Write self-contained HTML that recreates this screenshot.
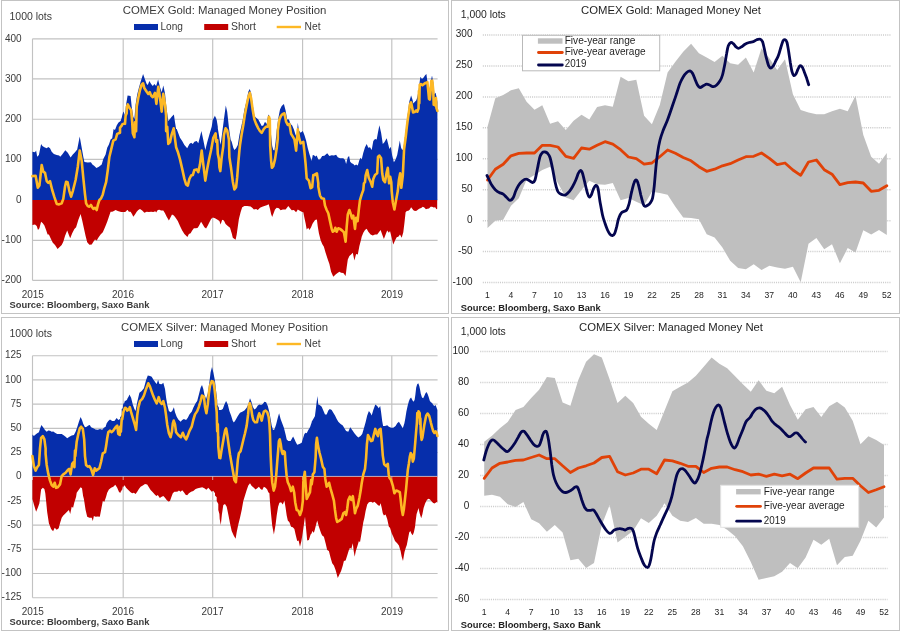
<!DOCTYPE html>
<html><head><meta charset="utf-8"><title>COMEX Gold and Silver: Managed Money</title>
<style>html,body{margin:0;padding:0;background:#fff}svg{display:block}text{font-family:"Liberation Sans", "DejaVu Sans", sans-serif}</style>
</head><body>
<svg width="900" height="631" viewBox="0 0 900 631">
<rect width="900" height="631" fill="#fff"/>
<rect x="1.5" y="0.5" width="447" height="313" fill="#fff" stroke="#c3c3c3" stroke-width="1"/>
<line x1="32.5" y1="38.8" x2="437.6" y2="38.8" stroke="#c2c2c2" stroke-width="1.15"/>
<line x1="32.5" y1="78.9" x2="437.6" y2="78.9" stroke="#c2c2c2" stroke-width="1.15"/>
<line x1="32.5" y1="119.2" x2="437.6" y2="119.2" stroke="#c2c2c2" stroke-width="1.15"/>
<line x1="32.5" y1="159.4" x2="437.6" y2="159.4" stroke="#c2c2c2" stroke-width="1.15"/>
<line x1="32.5" y1="200.0" x2="437.6" y2="200.0" stroke="#c2c2c2" stroke-width="1.15"/>
<line x1="32.5" y1="240.3" x2="437.6" y2="240.3" stroke="#c2c2c2" stroke-width="1.15"/>
<line x1="32.5" y1="280.4" x2="437.6" y2="280.4" stroke="#c2c2c2" stroke-width="1.15"/>
<line x1="32.5" y1="38.8" x2="32.5" y2="280.4" stroke="#c2c2c2" stroke-width="1.15"/>
<line x1="123.2" y1="38.8" x2="123.2" y2="280.4" stroke="#c2c2c2" stroke-width="1.15"/>
<line x1="212.7" y1="38.8" x2="212.7" y2="280.4" stroke="#c2c2c2" stroke-width="1.15"/>
<line x1="302.6" y1="38.8" x2="302.6" y2="280.4" stroke="#c2c2c2" stroke-width="1.15"/>
<line x1="391.8" y1="38.8" x2="391.8" y2="280.4" stroke="#c2c2c2" stroke-width="1.15"/>
<path d="M32.4,151.7 L35.0,152.2 L36.1,150.6 L37.2,156.7 L38.9,155.0 L41.1,143.9 L42.4,146.1 L44.4,147.2 L46.7,148.3 L48.3,146.9 L50.0,148.3 L51.7,151.7 L53.9,153.9 L56.7,155.0 L59.1,155.6 L60.2,156.7 L62.2,154.4 L65.3,150.2 L67.8,152.8 L70.6,157.6 L72.8,154.4 L75.0,152.2 L77.2,149.4 L79.7,136.4 L81.7,147.8 L83.3,156.7 L84.4,162.0 L87.8,162.4 L90.9,162.2 L92.4,164.4 L94.4,166.1 L96.4,168.1 L98.9,166.7 L101.7,164.4 L103.3,158.9 L105.6,154.4 L107.2,147.8 L108.9,144.4 L110.6,139.4 L112.2,138.3 L113.6,128.9 L115.0,130.0 L116.7,125.6 L118.3,122.8 L120.6,121.1 L121.7,117.8 L122.2,115.6 L123.3,111.7 L123.6,111.7 L125.0,115.6 L126.1,104.4 L127.6,95.6 L130.6,96.1 L131.7,106.7 L133.3,116.7 L134.4,118.9 L135.6,104.4 L137.2,94.4 L138.9,87.8 L140.6,81.7 L143.1,73.9 L145.0,79.4 L146.7,83.9 L147.8,85.0 L149.4,81.1 L151.1,83.9 L152.8,86.1 L154.4,83.9 L156.1,86.1 L158.1,79.4 L160.0,87.2 L161.7,92.2 L163.3,85.6 L165.0,93.3 L166.1,104.4 L167.2,113.3 L168.3,121.1 L170.0,118.9 L171.7,116.7 L173.9,114.4 L175.0,122.2 L176.1,128.9 L176.7,128.9 L178.3,133.3 L180.0,137.8 L182.2,141.1 L184.4,145.0 L187.2,148.3 L189.4,143.9 L191.1,142.8 L192.8,143.9 L194.4,141.7 L196.7,141.1 L198.3,143.3 L200.0,136.7 L201.4,131.1 L203.3,140.0 L205.3,150.0 L207.2,142.2 L209.4,134.4 L211.7,126.7 L212.8,120.0 L215.0,115.6 L215.0,116.1 L216.1,118.3 L216.7,120.0 L217.8,126.7 L217.8,128.3 L220.0,141.7 L220.6,144.8 L222.2,132.8 L223.9,119.4 L225.8,105.6 L227.2,111.7 L228.9,127.2 L230.6,139.4 L231.7,141.7 L233.3,147.8 L234.4,150.0 L236.1,148.3 L237.8,145.0 L239.4,135.0 L241.1,127.2 L242.8,119.4 L244.4,109.4 L246.7,100.6 L248.3,91.7 L249.7,88.9 L251.1,92.8 L252.8,105.0 L254.4,116.1 L256.1,117.8 L258.3,119.4 L260.0,122.8 L261.7,126.1 L263.3,125.6 L265.0,121.7 L266.7,123.9 L268.3,114.4 L269.8,116.7 L270.6,130.6 L272.2,146.1 L273.3,150.0 L274.4,150.6 L275.6,141.7 L276.7,130.6 L278.3,118.3 L280.0,109.4 L281.7,106.1 L283.9,104.1 L285.6,110.6 L287.2,119.4 L288.9,119.4 L290.6,123.9 L292.2,125.6 L293.9,129.4 L295.6,135.0 L296.7,137.2 L297.8,122.8 L298.9,130.6 L300.6,132.8 L302.8,131.1 L304.4,135.0 L306.1,140.6 L307.8,148.3 L309.4,153.9 L311.4,160.6 L311.7,160.6 L312.8,155.0 L313.3,155.0 L315.0,156.1 L315.0,156.7 L316.7,155.6 L318.3,159.4 L320.0,159.4 L322.2,156.1 L324.4,155.8 L327.2,153.3 L329.4,156.1 L331.7,155.3 L333.9,155.6 L336.1,154.7 L337.8,157.2 L340.0,158.3 L343.3,158.3 L345.0,160.0 L346.1,163.9 L347.8,157.2 L349.1,156.1 L350.2,161.7 L351.7,163.3 L353.3,163.9 L354.7,165.6 L356.1,164.4 L357.8,165.6 L359.4,160.0 L360.6,157.8 L361.7,159.4 L363.3,152.8 L365.0,147.2 L366.7,143.9 L368.3,147.8 L370.0,147.2 L371.7,150.0 L373.3,141.1 L375.0,138.9 L376.7,139.4 L378.0,132.2 L379.4,125.3 L381.1,132.8 L382.8,143.9 L384.4,142.2 L386.7,138.3 L388.3,144.4 L389.4,148.9 L390.8,146.7 L392.2,155.6 L393.9,162.2 L395.6,159.4 L397.2,155.0 L398.3,148.9 L399.8,140.6 L401.1,147.8 L402.2,150.0 L403.3,149.0 L404.9,137.3 L406.1,127.2 L407.2,117.9 L408.4,109.3 L409.2,102.3 L409.6,100.4 L411.1,95.4 L412.3,98.9 L413.4,103.6 L414.6,102.0 L416.2,100.4 L417.3,97.3 L418.5,91.1 L419.7,81.8 L420.4,76.7 L422.0,79.1 L423.6,77.5 L425.1,75.2 L426.4,74.0 L427.2,80.2 L428.2,85.7 L429.4,90.3 L430.6,82.6 L432.0,75.6 L433.3,82.6 L434.4,94.2 L435.6,92.7 L436.8,98.1 L437.4,102.0 L437.4,200.0 L32.4,200.0 Z" fill="#062eab"/>
<path d="M32.4,225.0 L35.0,224.4 L36.7,226.1 L38.0,230.0 L39.4,228.3 L41.1,221.7 L42.8,223.3 L44.4,225.6 L46.1,230.0 L47.6,234.4 L48.9,234.4 L50.6,238.3 L52.8,242.8 L55.0,245.0 L57.6,248.9 L59.4,247.2 L61.7,245.0 L63.3,241.7 L65.0,236.1 L67.2,230.6 L68.9,235.0 L70.2,238.3 L72.2,233.3 L74.4,228.9 L76.1,227.2 L78.3,220.0 L80.6,213.9 L82.2,220.6 L83.9,228.3 L85.6,236.1 L87.2,242.2 L89.4,244.7 L91.7,244.4 L93.9,241.1 L95.0,239.4 L96.7,240.6 L98.3,237.8 L100.6,234.4 L102.8,232.2 L105.0,227.2 L107.2,221.7 L108.9,216.7 L110.6,211.7 L112.2,211.7 L113.9,211.1 L115.6,210.0 L117.8,211.1 L121.1,211.9 L123.3,212.0 L124.4,211.9 L125.6,211.7 L127.2,210.0 L127.6,210.0 L128.9,211.7 L128.9,211.7 L130.6,211.7 L132.0,213.9 L133.3,216.7 L135.0,214.4 L136.7,211.7 L138.3,210.0 L140.0,209.1 L142.2,210.6 L144.4,212.8 L146.7,211.7 L148.9,212.0 L151.1,211.7 L153.3,212.0 L155.3,211.3 L156.1,212.4 L157.8,210.0 L159.4,209.8 L161.1,210.6 L163.3,210.6 L165.0,213.3 L166.7,216.7 L168.9,220.6 L170.6,217.2 L172.0,214.4 L173.9,215.6 L175.6,217.8 L177.8,221.1 L180.0,226.1 L182.2,230.6 L184.4,233.9 L187.4,237.0 L188.9,233.9 L190.6,233.3 L192.2,230.6 L193.9,228.3 L196.1,228.3 L197.8,227.8 L199.4,225.0 L201.1,221.7 L202.8,224.4 L204.4,227.2 L206.1,228.6 L207.8,225.6 L209.4,222.2 L211.1,218.9 L212.8,217.6 L215.0,218.3 L215.0,218.3 L217.2,219.4 L217.2,219.4 L219.4,221.1 L220.6,224.4 L222.2,219.8 L223.9,220.6 L225.6,223.9 L227.8,226.1 L230.0,227.8 L231.7,233.3 L232.8,237.8 L235.6,239.8 L236.7,234.4 L237.8,226.7 L238.9,218.9 L240.6,212.2 L242.2,207.2 L244.4,205.9 L247.2,205.9 L250.6,206.4 L252.2,207.8 L253.9,209.4 L256.1,208.9 L257.8,210.0 L260.0,207.8 L262.2,206.7 L264.4,206.1 L266.7,205.3 L268.7,204.2 L270.0,208.9 L271.1,213.9 L272.2,217.0 L273.3,213.9 L275.0,209.4 L276.7,207.8 L278.9,208.3 L280.6,210.2 L282.8,209.4 L285.6,209.4 L288.3,206.1 L290.0,208.3 L291.7,210.3 L293.9,210.0 L296.1,212.2 L297.8,209.4 L299.4,210.6 L301.7,211.7 L303.3,212.2 L304.4,217.8 L305.6,223.3 L306.7,229.4 L308.3,227.8 L309.4,230.0 L311.1,227.2 L312.2,224.4 L312.8,223.3 L314.4,221.1 L315.0,220.0 L316.9,219.4 L317.8,226.7 L318.9,233.3 L320.6,240.0 L320.6,240.0 L322.2,243.9 L323.9,246.7 L325.6,252.8 L327.8,259.4 L329.4,263.9 L331.1,271.7 L333.3,276.7 L335.6,274.4 L337.2,273.3 L339.4,271.7 L341.1,272.8 L343.3,273.0 L345.6,275.9 L346.7,267.2 L347.8,259.4 L349.4,256.1 L351.1,254.4 L352.8,252.8 L354.4,260.6 L356.1,253.9 L357.8,254.4 L359.4,246.1 L361.1,239.4 L361.7,236.7 L363.3,232.8 L365.0,230.0 L366.7,228.7 L368.3,231.7 L370.6,234.4 L372.8,235.6 L375.0,234.4 L377.2,234.4 L378.9,232.2 L380.6,230.0 L382.2,234.4 L383.9,238.9 L385.6,234.4 L387.2,230.6 L388.9,232.8 L390.0,231.1 L391.7,237.8 L393.3,244.4 L395.0,240.6 L396.7,237.2 L398.3,236.7 L400.0,234.4 L401.7,237.8 L403.3,232.2 L404.4,223.3 L405.6,212.2 L406.8,211.1 L408.4,210.7 L409.9,209.6 L411.1,207.2 L412.3,208.8 L413.4,210.3 L415.0,211.1 L416.6,210.7 L418.1,209.6 L419.7,208.4 L421.2,208.0 L422.8,206.8 L424.3,207.6 L425.9,209.2 L427.4,208.8 L429.0,208.4 L430.6,206.8 L432.1,206.8 L433.7,207.6 L435.2,207.2 L436.4,209.2 L437.2,208.8 L437.2,200.0 L32.4,200.0 Z" fill="#c10000"/>
<path d="M32.4,176.1 L35.6,175.8 L37.8,187.8 L39.4,185.6 L41.7,165.0 L43.3,171.7 L45.0,172.8 L46.7,181.1 L48.3,182.8 L50.0,181.1 L52.2,190.0 L54.4,197.2 L56.7,203.9 L59.1,204.4 L61.7,203.3 L63.3,198.9 L65.0,186.7 L66.1,181.7 L67.6,182.2 L69.4,191.1 L71.1,196.7 L72.8,191.1 L75.6,180.0 L77.8,166.7 L79.7,150.6 L81.7,161.1 L83.3,177.8 L85.0,194.4 L86.1,203.3 L87.8,206.1 L89.4,206.7 L90.9,205.0 L92.2,207.2 L93.3,208.9 L95.0,207.8 L96.7,210.0 L98.0,204.4 L99.4,200.0 L101.1,198.3 L102.8,194.4 L104.4,187.8 L106.1,182.2 L107.8,170.0 L109.4,156.7 L110.9,150.6 L113.3,140.6 L115.6,139.4 L117.2,133.9 L120.0,132.8 L120.0,127.8 L121.7,125.6 L122.2,124.4 L124.4,123.3 L125.0,123.9 L125.6,115.6 L126.7,113.3 L126.9,106.7 L127.8,104.4 L129.4,107.8 L131.1,110.0 L132.2,122.2 L132.8,133.3 L134.4,137.2 L135.0,122.2 L136.1,131.1 L136.7,106.7 L138.3,97.8 L140.0,90.0 L141.7,84.4 L143.1,83.3 L144.4,88.3 L146.7,91.7 L148.3,93.9 L149.8,92.2 L151.1,95.6 L152.8,97.2 L155.0,92.8 L156.4,103.9 L158.3,86.7 L160.0,97.8 L161.7,111.7 L163.3,93.9 L165.0,104.4 L166.1,115.6 L166.1,131.1 L167.2,126.7 L168.3,143.9 L170.0,142.2 L171.7,134.4 L173.7,128.3 L175.0,138.9 L176.1,147.2 L177.8,151.7 L180.0,159.4 L182.2,168.9 L184.4,178.9 L186.1,184.4 L187.8,185.6 L189.4,178.9 L191.1,175.6 L192.8,175.0 L194.4,170.0 L196.7,169.4 L198.3,172.2 L200.0,164.4 L201.7,150.6 L203.3,164.4 L205.3,180.6 L207.2,168.9 L208.9,160.0 L211.1,150.0 L213.3,137.8 L215.6,133.3 L216.1,141.7 L217.2,140.0 L217.8,153.9 L218.9,158.9 L219.4,167.2 L220.3,171.1 L221.7,157.2 L223.3,146.1 L223.9,135.0 L225.6,128.3 L227.2,130.6 L228.9,139.4 L229.4,157.2 L231.1,168.3 L232.8,181.7 L234.4,189.4 L236.1,187.2 L237.2,177.2 L238.3,162.8 L239.4,150.6 L240.0,145.0 L241.7,133.9 L243.3,125.0 L245.0,113.9 L246.7,105.0 L248.3,97.2 L249.8,92.8 L251.1,98.3 L252.8,110.6 L254.4,119.4 L256.1,123.9 L258.3,128.3 L260.0,131.1 L261.7,132.8 L263.9,128.9 L266.1,126.7 L267.8,126.7 L268.9,116.7 L269.8,119.4 L270.2,146.1 L271.1,160.6 L271.9,167.8 L273.3,166.1 L275.0,159.4 L276.7,148.3 L277.8,138.3 L277.8,130.6 L279.4,119.4 L281.1,115.6 L282.8,113.9 L284.4,113.3 L286.1,121.7 L287.8,125.0 L289.4,123.9 L291.1,133.9 L292.8,136.7 L294.4,139.4 L296.1,150.6 L297.8,129.4 L298.9,137.2 L300.6,143.3 L303.3,141.9 L304.4,151.7 L305.6,163.9 L306.7,178.3 L308.9,180.6 L310.6,188.3 L312.2,187.2 L313.3,175.0 L315.0,175.0 L315.0,174.4 L316.9,173.3 L318.3,183.3 L318.3,186.7 L320.0,195.6 L321.7,198.3 L323.9,198.7 L325.0,205.6 L326.7,210.0 L328.3,213.3 L330.0,221.1 L331.7,228.9 L332.8,231.7 L334.4,230.6 L335.3,227.8 L336.7,231.7 L338.3,228.3 L340.0,228.9 L342.2,230.6 L343.9,232.2 L345.6,241.7 L346.7,226.7 L347.8,214.4 L349.4,210.0 L350.9,214.4 L352.0,218.3 L353.3,215.6 L355.0,228.9 L356.1,217.8 L357.6,221.1 L358.9,208.9 L360.0,200.0 L361.7,194.4 L363.3,190.0 L363.9,183.3 L365.0,182.2 L365.6,175.6 L367.2,170.0 L368.7,177.8 L370.6,181.7 L372.2,186.7 L373.3,178.9 L375.0,175.0 L377.2,173.3 L378.0,156.7 L379.4,155.6 L381.1,158.3 L382.2,173.3 L383.3,180.0 L385.0,182.2 L386.7,172.2 L387.8,167.8 L389.1,183.3 L390.2,176.7 L391.3,182.2 L391.7,191.1 L392.8,202.2 L394.4,209.4 L396.1,200.0 L397.8,191.1 L398.9,180.0 L400.2,173.3 L401.3,187.8 L402.8,175.6 L404.1,149.0 L405.7,137.3 L406.8,127.2 L408.0,117.9 L409.2,110.1 L409.9,104.7 L411.1,102.3 L411.9,106.2 L413.1,112.4 L414.6,112.1 L416.2,110.5 L417.3,111.7 L418.5,108.6 L418.9,91.1 L419.3,103.1 L419.7,84.9 L420.8,84.1 L422.4,85.3 L423.9,84.1 L425.5,82.9 L427.4,82.2 L428.2,90.3 L429.0,98.9 L429.8,99.7 L430.6,91.1 L431.2,81.0 L432.3,80.6 L433.3,91.1 L433.7,104.7 L434.1,100.4 L434.8,98.9 L435.2,105.4 L436.0,98.1 L436.4,107.8 L437.4,110.9" fill="none" stroke="#fdb825" stroke-width="2.6" stroke-linejoin="round" stroke-linecap="round"/>
<text x="224.6" y="14" font-size="11" text-anchor="middle" font-weight="normal" fill="#3a3a3a" textLength="203.6" lengthAdjust="spacingAndGlyphs">COMEX Gold: Managed Money Position</text>
<text x="9.5" y="19.8" font-size="10" text-anchor="start" font-weight="normal" fill="#3a3a3a" textLength="42.5" lengthAdjust="spacingAndGlyphs">1000 lots</text>
<text x="21.6" y="41.5" font-size="10" text-anchor="end" font-weight="normal" fill="#3a3a3a">400</text>
<text x="21.6" y="81.60000000000001" font-size="10" text-anchor="end" font-weight="normal" fill="#3a3a3a">300</text>
<text x="21.6" y="121.9" font-size="10" text-anchor="end" font-weight="normal" fill="#3a3a3a">200</text>
<text x="21.6" y="162.1" font-size="10" text-anchor="end" font-weight="normal" fill="#3a3a3a">100</text>
<text x="21.6" y="202.7" font-size="10" text-anchor="end" font-weight="normal" fill="#3a3a3a">0</text>
<text x="21.6" y="243.0" font-size="10" text-anchor="end" font-weight="normal" fill="#3a3a3a">-100</text>
<text x="21.6" y="283.09999999999997" font-size="10" text-anchor="end" font-weight="normal" fill="#3a3a3a">-200</text>
<text x="32.8" y="298.1" font-size="10" text-anchor="middle" font-weight="normal" fill="#3a3a3a">2015</text>
<text x="123.0" y="298.1" font-size="10" text-anchor="middle" font-weight="normal" fill="#3a3a3a">2016</text>
<text x="212.5" y="298.1" font-size="10" text-anchor="middle" font-weight="normal" fill="#3a3a3a">2017</text>
<text x="302.5" y="298.1" font-size="10" text-anchor="middle" font-weight="normal" fill="#3a3a3a">2018</text>
<text x="392.0" y="298.1" font-size="10" text-anchor="middle" font-weight="normal" fill="#3a3a3a">2019</text>
<text x="9.5" y="308.2" font-size="8.8" text-anchor="start" font-weight="bold" fill="#3a3a3a" textLength="140" lengthAdjust="spacingAndGlyphs">Source: Bloomberg, Saxo Bank</text>
<rect x="134" y="24" width="24" height="6" fill="#062eab"/>
<text x="160.5" y="30.2" font-size="10" text-anchor="start" font-weight="normal" fill="#3a3a3a" textLength="22.5" lengthAdjust="spacingAndGlyphs">Long</text>
<rect x="204.2" y="24" width="24" height="6" fill="#c10000"/>
<text x="231" y="30.2" font-size="10" text-anchor="start" font-weight="normal" fill="#3a3a3a" textLength="25" lengthAdjust="spacingAndGlyphs">Short</text>
<line x1="276.7" y1="27" x2="301" y2="27" stroke="#fdb825" stroke-width="2.4"/>
<text x="304.5" y="30.2" font-size="10" text-anchor="start" font-weight="normal" fill="#3a3a3a" textLength="16" lengthAdjust="spacingAndGlyphs">Net</text>
<rect x="1.5" y="317.5" width="447" height="313" fill="#fff" stroke="#c3c3c3" stroke-width="1"/>
<line x1="32.5" y1="355.7" x2="437.6" y2="355.7" stroke="#c2c2c2" stroke-width="1.15"/>
<line x1="32.5" y1="379.9" x2="437.6" y2="379.9" stroke="#c2c2c2" stroke-width="1.15"/>
<line x1="32.5" y1="404.1" x2="437.6" y2="404.1" stroke="#c2c2c2" stroke-width="1.15"/>
<line x1="32.5" y1="428.3" x2="437.6" y2="428.3" stroke="#c2c2c2" stroke-width="1.15"/>
<line x1="32.5" y1="452.5" x2="437.6" y2="452.5" stroke="#c2c2c2" stroke-width="1.15"/>
<line x1="32.5" y1="476.7" x2="437.6" y2="476.7" stroke="#c2c2c2" stroke-width="1.15"/>
<line x1="32.5" y1="500.9" x2="437.6" y2="500.9" stroke="#c2c2c2" stroke-width="1.15"/>
<line x1="32.5" y1="525.1" x2="437.6" y2="525.1" stroke="#c2c2c2" stroke-width="1.15"/>
<line x1="32.5" y1="549.3" x2="437.6" y2="549.3" stroke="#c2c2c2" stroke-width="1.15"/>
<line x1="32.5" y1="573.5" x2="437.6" y2="573.5" stroke="#c2c2c2" stroke-width="1.15"/>
<line x1="32.5" y1="597.7" x2="437.6" y2="597.7" stroke="#c2c2c2" stroke-width="1.15"/>
<line x1="32.5" y1="355.7" x2="32.5" y2="597.7" stroke="#c2c2c2" stroke-width="1.15"/>
<line x1="123.2" y1="355.7" x2="123.2" y2="597.7" stroke="#c2c2c2" stroke-width="1.15"/>
<line x1="212.7" y1="355.7" x2="212.7" y2="597.7" stroke="#c2c2c2" stroke-width="1.15"/>
<line x1="302.6" y1="355.7" x2="302.6" y2="597.7" stroke="#c2c2c2" stroke-width="1.15"/>
<line x1="391.8" y1="355.7" x2="391.8" y2="597.7" stroke="#c2c2c2" stroke-width="1.15"/>
<path d="M32.4,434.4 L33.9,436.1 L35.6,434.4 L37.2,433.3 L38.9,432.2 L40.2,428.3 L41.4,425.0 L43.1,427.2 L45.0,430.0 L46.7,431.7 L48.3,430.6 L50.0,430.8 L51.7,431.7 L53.3,431.4 L55.0,432.8 L57.2,433.9 L59.4,434.1 L61.7,434.1 L63.3,435.0 L65.6,436.7 L67.2,438.3 L69.4,436.7 L71.7,435.6 L73.9,435.0 L75.6,431.7 L77.2,427.2 L78.9,421.7 L80.6,417.0 L82.0,420.0 L83.3,423.9 L85.0,427.2 L86.7,426.7 L88.3,425.6 L89.8,425.0 L91.1,427.2 L93.3,428.3 L95.6,429.4 L97.8,429.7 L100.0,428.9 L102.2,429.7 L103.9,427.8 L105.6,426.7 L106.7,423.3 L108.3,421.1 L110.0,419.4 L112.2,421.1 L114.4,421.1 L116.7,418.1 L118.3,420.0 L120.0,418.9 L120.0,417.8 L121.7,415.0 L121.7,408.9 L122.8,408.3 L123.3,402.8 L123.9,403.9 L125.0,400.6 L125.6,401.1 L127.2,399.4 L127.2,398.9 L128.9,396.1 L129.4,394.4 L131.1,397.8 L132.8,404.4 L134.4,408.9 L135.6,411.1 L137.2,402.2 L139.4,392.8 L141.7,391.1 L143.9,388.3 L146.1,380.0 L147.8,375.6 L150.0,376.1 L151.7,376.7 L153.3,379.4 L155.6,382.8 L156.7,383.9 L158.1,379.8 L159.4,383.9 L161.7,384.2 L163.3,382.8 L165.0,388.9 L166.1,397.8 L167.2,404.4 L168.9,411.1 L170.6,412.2 L172.2,411.1 L173.9,407.2 L175.0,412.2 L176.7,416.7 L178.3,419.4 L180.6,421.7 L182.2,420.0 L183.9,418.9 L186.1,420.0 L187.8,417.8 L189.4,414.4 L191.7,411.7 L193.3,407.8 L195.6,403.3 L197.2,401.1 L198.9,394.4 L200.6,387.8 L202.0,385.0 L203.3,388.9 L204.4,394.4 L206.1,398.9 L207.8,393.3 L209.4,382.2 L210.6,372.2 L212.0,366.9 L213.3,372.2 L215.0,381.1 L216.1,391.1 L217.2,400.0 L217.2,404.4 L218.9,407.8 L218.9,410.0 L221.1,410.0 L222.8,408.9 L224.4,404.4 L226.1,401.1 L227.8,404.4 L229.4,411.1 L231.1,415.6 L232.8,421.1 L233.9,422.4 L235.6,420.0 L237.8,416.1 L240.0,412.8 L242.2,411.7 L244.4,410.6 L246.7,407.8 L248.3,404.4 L250.0,398.3 L251.4,401.7 L252.8,406.7 L254.4,409.4 L256.1,408.3 L257.8,405.6 L259.4,404.4 L261.1,405.0 L262.8,403.9 L264.4,401.7 L266.1,402.2 L267.8,406.1 L269.4,412.2 L270.6,418.9 L271.7,425.6 L273.0,430.0 L274.4,429.4 L276.1,424.4 L277.8,417.8 L279.1,413.3 L280.6,418.9 L282.2,423.3 L283.9,427.8 L285.6,434.4 L286.7,439.4 L288.3,440.9 L290.6,441.1 L291.7,438.9 L293.1,436.4 L294.4,438.9 L295.6,441.7 L297.2,444.7 L299.4,443.9 L301.7,442.8 L302.8,438.9 L304.4,433.9 L305.6,432.8 L306.7,433.3 L308.3,430.0 L310.0,427.2 L311.7,422.2 L311.7,421.7 L313.3,418.9 L313.3,418.9 L315.0,416.1 L315.0,415.6 L316.1,406.7 L317.4,396.1 L318.3,404.4 L320.0,405.3 L321.7,406.7 L323.3,410.6 L325.0,414.4 L326.7,414.4 L328.3,410.6 L329.8,409.1 L331.7,410.0 L333.3,412.8 L335.0,415.6 L336.7,418.9 L338.3,421.7 L340.6,423.9 L342.8,425.6 L344.4,428.3 L346.1,430.9 L348.3,431.7 L350.2,427.2 L352.2,430.0 L354.4,433.3 L356.7,436.1 L358.3,437.6 L360.6,436.1 L362.2,433.9 L363.9,428.3 L365.6,422.2 L367.2,415.6 L368.9,411.1 L370.6,413.3 L371.7,415.6 L373.3,410.0 L375.3,404.4 L377.2,406.1 L378.7,408.3 L380.2,406.1 L381.1,412.2 L382.2,421.1 L383.1,426.1 L385.0,426.1 L387.2,425.3 L388.9,426.7 L391.1,427.8 L393.3,427.8 L395.6,426.1 L397.2,423.3 L398.9,421.7 L400.6,424.4 L402.8,428.3 L404.4,423.3 L405.3,418.6 L406.4,411.6 L407.6,406.1 L408.8,401.4 L409.9,398.7 L411.1,397.6 L412.3,399.9 L413.4,401.8 L414.6,399.9 L415.4,394.4 L416.2,387.4 L417.2,384.3 L418.3,383.2 L419.3,385.9 L420.1,389.8 L420.8,393.7 L422.0,397.6 L423.2,398.3 L424.3,396.0 L425.5,393.3 L426.5,392.1 L427.6,394.1 L428.6,396.8 L429.8,400.7 L430.9,402.2 L432.1,403.0 L433.3,404.9 L434.4,406.1 L435.6,404.9 L436.6,407.7 L437.4,410.0 L437.4,476.4 L32.4,476.4 Z" fill="#062eab"/>
<path d="M32.4,498.9 L33.9,504.4 L36.1,511.7 L37.8,507.8 L39.4,503.3 L40.2,496.7 L41.1,489.4 L42.8,487.8 L44.4,488.9 L45.3,493.3 L46.1,501.1 L47.2,512.2 L48.9,523.3 L51.1,528.9 L53.1,531.3 L54.7,527.8 L56.7,529.8 L58.7,528.3 L60.0,523.3 L61.7,517.8 L63.3,515.6 L65.6,513.3 L67.8,511.1 L68.9,510.0 L70.2,513.9 L71.7,506.7 L73.1,507.8 L74.4,502.2 L76.1,496.7 L76.7,492.8 L78.3,490.6 L80.6,487.2 L82.0,488.3 L83.1,496.1 L83.9,498.9 L85.6,510.0 L87.2,516.7 L89.4,517.8 L91.7,517.8 L92.8,521.1 L93.9,516.1 L95.6,516.7 L97.8,516.4 L99.8,516.7 L101.1,510.0 L102.8,501.1 L104.4,501.7 L106.1,496.7 L107.2,492.8 L108.9,489.4 L111.1,487.8 L113.3,486.7 L115.3,484.8 L117.2,487.8 L118.9,491.7 L120.2,493.0 L121.7,489.4 L121.7,491.7 L123.1,485.6 L123.3,487.2 L124.4,485.6 L124.4,485.0 L126.1,487.8 L126.1,487.8 L127.8,489.4 L128.3,490.0 L130.6,492.2 L132.2,493.3 L133.9,492.8 L135.6,494.1 L137.2,491.7 L138.9,488.9 L140.6,486.7 L142.8,485.6 L145.0,484.1 L147.2,484.4 L148.9,487.2 L150.6,490.0 L152.8,492.2 L155.0,494.8 L156.4,496.1 L157.8,495.0 L159.8,498.0 L161.7,496.7 L163.3,496.1 L165.0,497.8 L166.7,500.0 L168.3,501.4 L170.0,501.1 L171.1,497.8 L172.8,493.3 L174.4,491.7 L176.1,491.7 L177.8,491.4 L178.9,490.6 L180.6,491.7 L182.2,490.3 L183.9,492.2 L185.6,494.8 L187.2,495.2 L188.9,493.3 L191.1,491.7 L193.3,491.1 L195.6,488.9 L197.8,488.3 L200.0,487.8 L202.2,487.2 L204.4,488.3 L206.4,489.7 L208.3,487.8 L210.0,489.7 L211.7,491.7 L213.3,490.8 L215.0,493.3 L215.0,495.6 L216.7,497.2 L216.7,501.1 L218.3,503.9 L218.3,510.0 L219.4,513.9 L219.7,518.9 L220.8,525.0 L221.9,514.4 L223.3,505.0 L225.0,503.9 L226.7,506.7 L228.3,514.4 L230.0,523.3 L231.7,531.1 L233.7,535.6 L235.6,538.7 L236.7,532.2 L238.3,524.4 L240.0,517.8 L241.7,510.0 L243.3,501.1 L245.0,495.6 L246.7,490.0 L248.3,485.6 L250.0,483.3 L251.7,486.1 L253.3,487.2 L255.6,489.4 L257.2,488.3 L258.9,486.7 L260.6,488.9 L262.2,490.0 L263.9,486.7 L265.6,487.8 L267.2,489.4 L268.3,492.2 L269.4,493.3 L270.0,502.2 L271.1,514.4 L272.2,525.6 L273.9,534.4 L275.6,524.4 L276.7,515.6 L278.1,506.7 L279.4,502.8 L281.1,502.2 L282.8,504.4 L284.4,500.6 L285.6,507.8 L286.7,515.6 L287.8,520.6 L289.4,522.2 L291.1,526.7 L292.8,527.2 L294.4,528.9 L295.6,534.4 L297.2,541.1 L298.6,540.6 L300.0,546.7 L301.4,541.1 L302.8,532.2 L303.9,524.4 L305.0,516.7 L306.1,528.9 L307.2,540.6 L308.9,540.0 L310.6,534.4 L311.7,533.3 L312.2,531.1 L313.3,532.2 L313.9,532.8 L315.0,528.9 L316.1,524.4 L317.2,520.6 L318.9,526.7 L321.1,533.3 L322.2,535.6 L323.9,536.7 L325.6,543.3 L327.2,550.0 L328.9,551.1 L330.6,557.8 L332.2,563.3 L333.9,565.6 L335.6,570.0 L337.8,578.0 L339.4,574.4 L341.1,571.1 L342.8,565.6 L343.9,561.1 L345.6,560.6 L347.2,555.6 L348.9,550.0 L350.0,547.8 L351.3,548.9 L352.8,543.3 L353.7,551.1 L354.7,556.7 L355.8,551.1 L357.2,546.7 L358.9,541.1 L360.0,542.2 L361.7,532.2 L363.3,522.2 L364.4,517.8 L365.6,511.1 L367.2,504.4 L368.9,502.2 L371.1,501.7 L372.8,502.8 L374.4,501.7 L376.1,503.3 L377.8,505.0 L379.4,506.1 L380.6,503.3 L381.7,507.8 L382.8,513.3 L383.9,515.6 L385.6,514.4 L387.2,518.9 L388.9,526.7 L390.0,527.8 L391.7,533.3 L393.3,536.7 L395.0,541.1 L397.2,543.3 L398.9,545.6 L400.6,551.1 L401.7,556.7 L403.0,560.9 L403.7,556.7 L404.5,552.0 L405.7,548.1 L406.8,545.0 L408.0,538.8 L409.2,532.6 L410.3,531.0 L411.5,533.7 L412.7,535.3 L413.8,532.6 L415.0,527.1 L415.8,520.1 L416.6,513.9 L417.3,512.0 L418.5,508.1 L419.7,513.6 L421.2,518.2 L422.4,514.3 L423.6,508.1 L425.1,503.4 L426.7,500.3 L428.2,498.8 L429.8,499.2 L431.3,501.1 L432.9,502.7 L434.4,503.4 L435.6,502.7 L436.8,501.9 L437.3,502.7 L437.3,476.4 L32.4,476.4 Z" fill="#c10000"/>
<line x1="32.5" y1="476.4" x2="437.6" y2="476.4" stroke="#dcdcdc" stroke-opacity="0.85" stroke-width="0.8"/>
<line x1="32.5" y1="476.4" x2="32.5" y2="480.0" stroke="#dcdcdc" stroke-opacity="0.7" stroke-width="1"/>
<line x1="123.2" y1="476.4" x2="123.2" y2="480.0" stroke="#dcdcdc" stroke-opacity="0.7" stroke-width="1"/>
<line x1="212.7" y1="476.4" x2="212.7" y2="480.0" stroke="#dcdcdc" stroke-opacity="0.7" stroke-width="1"/>
<line x1="302.6" y1="476.4" x2="302.6" y2="480.0" stroke="#dcdcdc" stroke-opacity="0.7" stroke-width="1"/>
<line x1="391.8" y1="476.4" x2="391.8" y2="480.0" stroke="#dcdcdc" stroke-opacity="0.7" stroke-width="1"/>
<path d="M32.4,456.1 L33.9,466.1 L35.6,470.6 L37.2,467.2 L38.9,465.0 L40.0,448.3 L41.1,437.8 L42.8,436.1 L44.4,439.4 L45.6,448.3 L45.6,453.9 L46.7,465.0 L48.3,473.9 L50.0,480.6 L51.7,485.0 L53.3,486.7 L54.7,482.8 L56.1,487.8 L57.8,487.2 L60.0,484.4 L61.7,476.1 L63.3,474.4 L65.6,472.8 L67.8,470.0 L69.1,468.9 L70.6,474.4 L72.2,463.9 L73.6,462.2 L74.4,467.2 L75.0,450.6 L75.3,456.1 L76.7,441.7 L78.3,433.9 L79.8,428.3 L81.1,426.7 L82.8,428.9 L84.2,439.4 L85.0,456.1 L86.1,465.0 L87.8,466.7 L89.4,466.1 L91.1,468.9 L93.1,475.0 L94.7,468.3 L96.1,470.6 L97.8,469.4 L99.4,468.3 L101.1,461.7 L102.8,453.3 L105.0,452.2 L106.1,446.1 L107.2,438.3 L108.3,432.2 L110.0,430.6 L111.7,432.2 L113.3,430.6 L115.6,427.2 L117.2,425.6 L118.3,433.9 L119.8,435.0 L120.0,426.7 L120.9,431.7 L121.7,418.9 L122.2,419.4 L123.3,412.2 L123.9,410.6 L125.0,407.8 L125.6,407.8 L126.7,408.9 L127.2,410.6 L127.8,410.0 L128.9,409.4 L129.8,407.2 L131.1,412.2 L132.8,417.8 L134.4,423.3 L136.1,430.0 L137.2,415.6 L138.3,407.8 L140.0,401.1 L142.2,398.9 L143.9,395.6 L146.1,388.9 L148.3,383.3 L150.0,386.7 L151.7,391.7 L153.3,396.1 L155.0,400.0 L156.7,403.3 L158.7,397.2 L160.0,401.7 L161.7,403.9 L163.3,401.1 L165.0,407.8 L166.1,415.6 L167.2,424.4 L168.9,433.3 L170.6,437.2 L172.0,431.1 L172.8,423.3 L173.7,420.6 L175.0,424.4 L176.1,432.2 L178.3,435.0 L180.9,437.2 L182.8,432.8 L184.4,436.7 L186.1,439.4 L187.8,435.6 L189.4,431.1 L191.7,426.7 L193.3,420.0 L195.0,414.4 L197.2,411.1 L198.9,406.7 L200.6,401.1 L202.0,395.6 L203.9,396.7 L205.0,406.7 L206.4,413.3 L207.8,404.4 L208.9,393.3 L210.0,385.6 L211.7,381.1 L213.3,381.7 L214.4,387.8 L215.6,398.9 L216.1,406.7 L216.7,412.2 L217.2,431.1 L217.2,423.3 L217.8,424.4 L218.3,445.6 L218.3,436.7 L218.3,446.7 L219.4,457.8 L219.4,454.4 L220.3,458.3 L221.4,451.1 L222.8,443.3 L223.9,436.7 L225.2,430.0 L226.1,428.3 L227.2,434.4 L228.9,446.7 L230.0,454.4 L231.7,464.4 L233.3,473.3 L234.4,480.0 L235.9,482.2 L236.7,473.3 L237.8,460.0 L238.9,453.3 L240.6,451.1 L241.7,446.7 L243.3,440.0 L245.0,433.3 L246.7,425.6 L248.1,414.4 L248.9,405.6 L249.8,403.1 L251.1,407.8 L252.2,415.6 L253.3,420.0 L255.0,422.2 L257.0,422.2 L258.1,416.7 L259.2,413.3 L260.6,416.7 L261.7,420.6 L262.8,415.6 L263.9,411.7 L265.6,410.6 L267.2,412.2 L268.6,416.7 L269.4,423.3 L270.0,434.4 L270.6,454.4 L271.4,471.1 L272.2,482.2 L273.7,490.6 L275.0,486.7 L276.1,476.7 L277.2,462.2 L278.3,448.9 L278.9,441.1 L279.8,439.4 L280.8,444.4 L281.7,451.1 L282.6,453.9 L283.7,451.1 L284.8,452.2 L285.6,464.4 L286.7,476.7 L287.8,482.2 L289.4,485.6 L291.1,491.1 L292.8,486.7 L294.1,492.2 L295.2,502.2 L296.7,510.0 L298.3,510.6 L300.0,515.0 L301.7,510.0 L302.8,501.1 L303.3,482.2 L304.8,471.7 L305.6,484.4 L306.7,498.9 L308.3,495.6 L310.0,492.2 L311.1,480.0 L311.7,484.4 L312.8,476.7 L312.8,474.4 L314.4,472.2 L314.4,472.2 L315.6,457.8 L316.1,444.4 L316.9,437.8 L318.0,445.6 L319.4,452.2 L321.1,458.9 L322.8,466.7 L324.4,468.9 L325.3,478.9 L326.7,486.7 L327.8,485.6 L329.1,482.8 L330.6,488.9 L332.2,494.4 L333.9,500.6 L335.0,510.0 L336.1,517.8 L337.2,522.0 L339.4,520.6 L341.7,518.9 L343.3,513.3 L345.0,512.2 L346.1,515.0 L347.2,508.9 L348.3,500.0 L349.8,496.7 L351.3,500.0 L352.8,496.1 L353.9,503.9 L355.0,513.3 L356.1,508.9 L357.8,505.6 L359.4,497.8 L360.6,491.1 L361.7,483.3 L363.3,474.4 L365.0,468.9 L366.1,457.8 L366.9,444.4 L368.0,435.0 L369.4,437.8 L371.1,441.1 L372.4,440.6 L373.9,434.4 L375.3,428.9 L376.7,433.9 L378.0,436.1 L378.9,430.0 L380.6,428.9 L381.7,441.1 L382.8,455.6 L384.2,464.4 L386.1,466.1 L387.8,463.9 L388.7,474.4 L389.4,477.8 L391.1,480.0 L392.8,485.6 L394.4,493.3 L396.1,490.6 L397.8,491.1 L399.8,492.2 L400.6,498.9 L401.7,508.9 L402.8,515.0 L403.9,508.9 L405.0,498.9 L406.1,488.9 L406.7,482.2 L407.8,470.0 L408.8,464.0 L409.9,456.2 L410.7,453.1 L411.9,454.7 L412.8,461.7 L413.8,458.6 L414.6,450.0 L415.4,440.7 L416.2,430.6 L416.9,422.8 L417.3,413.1 L417.7,417.3 L418.5,411.2 L419.7,413.1 L420.1,424.3 L420.4,418.6 L420.8,432.9 L421.6,439.9 L422.4,437.6 L423.2,432.1 L424.3,425.1 L425.5,418.9 L426.3,415.4 L427.6,413.5 L429.0,415.4 L429.8,418.1 L430.9,422.8 L432.1,427.4 L433.3,431.3 L434.4,432.9 L435.6,431.3 L436.6,432.5 L437.4,436.0" fill="none" stroke="#fdb825" stroke-width="2.6" stroke-linejoin="round" stroke-linecap="round"/>
<text x="224.6" y="331" font-size="11" text-anchor="middle" font-weight="normal" fill="#3a3a3a" textLength="207" lengthAdjust="spacingAndGlyphs">COMEX Silver: Managed Money Position</text>
<text x="9.5" y="336.8" font-size="10" text-anchor="start" font-weight="normal" fill="#3a3a3a" textLength="42.5" lengthAdjust="spacingAndGlyphs">1000 lots</text>
<text x="21.6" y="358.4" font-size="10" text-anchor="end" font-weight="normal" fill="#3a3a3a">125</text>
<text x="21.6" y="382.59999999999997" font-size="10" text-anchor="end" font-weight="normal" fill="#3a3a3a">100</text>
<text x="21.6" y="406.8" font-size="10" text-anchor="end" font-weight="normal" fill="#3a3a3a">75</text>
<text x="21.6" y="431.0" font-size="10" text-anchor="end" font-weight="normal" fill="#3a3a3a">50</text>
<text x="21.6" y="455.2" font-size="10" text-anchor="end" font-weight="normal" fill="#3a3a3a">25</text>
<text x="21.6" y="479.4" font-size="10" text-anchor="end" font-weight="normal" fill="#3a3a3a">0</text>
<text x="21.6" y="503.59999999999997" font-size="10" text-anchor="end" font-weight="normal" fill="#3a3a3a">-25</text>
<text x="21.6" y="527.8000000000001" font-size="10" text-anchor="end" font-weight="normal" fill="#3a3a3a">-50</text>
<text x="21.6" y="552.0" font-size="10" text-anchor="end" font-weight="normal" fill="#3a3a3a">-75</text>
<text x="21.6" y="576.2" font-size="10" text-anchor="end" font-weight="normal" fill="#3a3a3a">-100</text>
<text x="21.6" y="600.4000000000001" font-size="10" text-anchor="end" font-weight="normal" fill="#3a3a3a">-125</text>
<text x="32.8" y="615.1" font-size="10" text-anchor="middle" font-weight="normal" fill="#3a3a3a">2015</text>
<text x="123.0" y="615.1" font-size="10" text-anchor="middle" font-weight="normal" fill="#3a3a3a">2016</text>
<text x="212.5" y="615.1" font-size="10" text-anchor="middle" font-weight="normal" fill="#3a3a3a">2017</text>
<text x="302.5" y="615.1" font-size="10" text-anchor="middle" font-weight="normal" fill="#3a3a3a">2018</text>
<text x="392.0" y="615.1" font-size="10" text-anchor="middle" font-weight="normal" fill="#3a3a3a">2019</text>
<text x="9.5" y="625.2" font-size="8.8" text-anchor="start" font-weight="bold" fill="#3a3a3a" textLength="140" lengthAdjust="spacingAndGlyphs">Source: Bloomberg, Saxo Bank</text>
<rect x="134" y="341" width="24" height="6" fill="#062eab"/>
<text x="160.5" y="347.2" font-size="10" text-anchor="start" font-weight="normal" fill="#3a3a3a" textLength="22.5" lengthAdjust="spacingAndGlyphs">Long</text>
<rect x="204.2" y="341" width="24" height="6" fill="#c10000"/>
<text x="231" y="347.2" font-size="10" text-anchor="start" font-weight="normal" fill="#3a3a3a" textLength="25" lengthAdjust="spacingAndGlyphs">Short</text>
<line x1="276.7" y1="344" x2="301" y2="344" stroke="#fdb825" stroke-width="2.4"/>
<text x="304.5" y="347.2" font-size="10" text-anchor="start" font-weight="normal" fill="#3a3a3a" textLength="16" lengthAdjust="spacingAndGlyphs">Net</text>
<rect x="451.5" y="0.5" width="448" height="313" fill="#fff" stroke="#c3c3c3" stroke-width="1"/>
<line x1="482.8" y1="35.00" x2="890.9" y2="35.00" stroke="#cdcdcd" stroke-width="1.5" stroke-dasharray="1.07 1.07"/>
<line x1="482.8" y1="65.94" x2="890.9" y2="65.94" stroke="#cdcdcd" stroke-width="1.5" stroke-dasharray="1.07 1.07"/>
<line x1="482.8" y1="96.88" x2="890.9" y2="96.88" stroke="#cdcdcd" stroke-width="1.5" stroke-dasharray="1.07 1.07"/>
<line x1="482.8" y1="127.82" x2="890.9" y2="127.82" stroke="#cdcdcd" stroke-width="1.5" stroke-dasharray="1.07 1.07"/>
<line x1="482.8" y1="158.76" x2="890.9" y2="158.76" stroke="#cdcdcd" stroke-width="1.5" stroke-dasharray="1.07 1.07"/>
<line x1="482.8" y1="189.70" x2="890.9" y2="189.70" stroke="#cdcdcd" stroke-width="1.5" stroke-dasharray="1.07 1.07"/>
<line x1="482.8" y1="220.64" x2="890.9" y2="220.64" stroke="#cdcdcd" stroke-width="1.5" stroke-dasharray="1.07 1.07"/>
<line x1="482.8" y1="251.58" x2="890.9" y2="251.58" stroke="#cdcdcd" stroke-width="1.5" stroke-dasharray="1.07 1.07"/>
<line x1="482.8" y1="282.52" x2="890.9" y2="282.52" stroke="#cdcdcd" stroke-width="1.5" stroke-dasharray="1.07 1.07"/>
<path d="M487.5,126.7 L495.3,98.3 L503.2,95.0 L511.0,90.3 L518.8,88.3 L526.6,101.7 L534.5,109.7 L542.3,105.3 L550.1,123.7 L558.0,121.3 L565.8,130.0 L573.6,120.8 L581.5,114.7 L589.3,119.5 L597.1,107.0 L605.0,105.3 L612.8,106.7 L620.6,76.7 L628.4,81.3 L636.3,79.7 L644.1,115.8 L651.9,124.2 L659.8,105.0 L667.6,72.5 L675.4,61.7 L683.2,51.7 L691.1,43.7 L698.9,53.3 L706.7,57.5 L714.6,62.0 L722.4,55.8 L730.2,63.3 L738.1,64.7 L745.9,57.5 L753.7,72.5 L761.5,48.3 L769.4,58.3 L777.2,70.0 L785.0,59.2 L792.9,94.2 L800.7,110.0 L808.5,112.5 L816.4,114.2 L824.2,114.2 L832.0,111.3 L839.9,108.7 L847.7,111.3 L855.5,95.8 L863.3,135.0 L871.2,156.7 L879.0,163.7 L886.8,153.0 L886.8,235.0 L879.0,230.0 L871.2,234.5 L863.3,230.3 L855.5,252.5 L847.7,248.0 L839.9,263.3 L832.0,244.2 L824.2,249.2 L816.4,238.0 L808.5,243.7 L800.7,282.2 L792.9,266.7 L785.0,268.7 L777.2,267.5 L769.4,265.8 L761.5,270.0 L753.7,264.2 L745.9,269.2 L738.1,268.0 L730.2,260.8 L722.4,247.5 L714.6,237.5 L706.7,234.2 L698.9,219.2 L691.1,218.0 L683.2,217.5 L675.4,206.7 L667.6,194.7 L659.8,193.0 L651.9,191.7 L644.1,205.3 L636.3,201.7 L628.4,198.0 L620.6,200.3 L612.8,183.0 L605.0,184.7 L597.1,184.2 L589.3,180.8 L581.5,190.0 L573.6,200.3 L565.8,197.5 L558.0,183.3 L550.1,166.7 L542.3,170.0 L534.5,175.0 L526.6,179.7 L518.8,198.3 L511.0,205.8 L503.2,219.7 L495.3,220.8 L487.5,228.0 Z" fill="#bfbfbf"/>
<path d="M487.5,180.0 L495.3,169.2 L503.2,164.2 L511.0,155.8 L518.8,153.3 L526.6,153.0 L534.5,153.0 L542.3,145.3 L550.1,145.3 L558.0,147.0 L565.8,156.3 L573.6,158.3 L581.5,148.0 L589.3,149.2 L597.1,145.3 L605.0,141.7 L612.8,144.2 L620.6,149.7 L628.4,157.0 L636.3,158.7 L644.1,164.2 L651.9,163.0 L659.8,156.7 L667.6,150.0 L675.4,153.3 L683.2,157.5 L691.1,160.8 L698.9,166.7 L706.7,171.3 L714.6,169.2 L722.4,165.8 L730.2,163.7 L738.1,160.0 L745.9,156.7 L753.7,156.3 L761.5,153.0 L769.4,158.3 L777.2,164.7 L785.0,163.0 L792.9,170.0 L800.7,175.3 L808.5,162.0 L816.4,160.0 L824.2,169.7 L832.0,174.2 L839.9,184.7 L847.7,182.7 L855.5,182.0 L863.3,183.0 L871.2,191.3 L879.0,190.3 L886.8,185.8" fill="none" stroke="#e04208" stroke-width="2.8" stroke-linejoin="round" stroke-linecap="round"/>
<path d="M487.0,175.5 C487.4,176.2 488.4,178.4 489.2,180.0 C489.9,181.6 490.6,183.4 491.7,185.0 C492.7,186.6 494.1,188.4 495.3,189.7 C496.6,190.9 497.9,191.8 499.2,192.5 C500.5,193.2 501.9,193.3 503.2,194.2 C504.4,195.0 505.5,196.5 506.7,197.5 C507.8,198.5 508.9,200.3 510.0,200.3 C511.1,200.3 512.4,199.1 513.3,197.5 C514.3,195.9 514.9,192.9 515.8,190.8 C516.7,188.7 517.7,186.7 518.8,185.0 C519.9,183.3 521.3,181.8 522.5,180.8 C523.7,179.9 524.7,179.2 525.8,179.2 C526.9,179.1 528.1,179.9 529.2,180.5 C530.3,181.1 531.5,182.6 532.5,182.5 C533.5,182.4 534.2,182.4 535.0,180.0 C535.8,177.6 536.7,172.2 537.5,168.3 C538.3,164.4 539.2,159.3 540.0,156.7 C540.8,154.0 541.7,153.3 542.5,152.5 C543.3,151.7 544.2,151.9 545.0,152.0 C545.8,152.1 546.7,152.4 547.5,153.3 C548.3,154.2 549.2,155.0 550.0,157.5 C550.8,160.0 551.7,164.3 552.5,168.3 C553.3,172.4 554.2,177.9 555.0,181.7 C555.8,185.4 556.7,188.8 557.5,190.8 C558.3,192.8 559.0,193.0 560.0,193.7 C561.0,194.4 562.4,194.8 563.3,195.0 C564.3,195.2 564.9,195.2 565.8,194.7 C566.8,194.1 568.1,193.0 569.2,191.7 C570.3,190.3 571.4,188.6 572.5,186.7 C573.6,184.7 574.9,182.2 575.8,180.0 C576.8,177.8 577.6,174.9 578.3,173.3 C579.1,171.7 579.8,170.5 580.5,170.5 C581.2,170.5 581.8,171.2 582.5,173.3 C583.2,175.5 584.2,180.0 585.0,183.3 C585.8,186.7 586.8,191.1 587.5,193.3 C588.2,195.6 588.7,196.7 589.3,197.0 C590.0,197.3 590.7,196.3 591.3,195.0 C592.0,193.7 592.6,190.8 593.3,189.2 C594.1,187.6 595.1,185.5 595.8,185.3 C596.6,185.2 597.3,185.6 598.0,188.3 C598.7,191.1 599.2,197.2 600.0,201.7 C600.8,206.1 601.7,211.4 602.5,215.0 C603.3,218.6 604.2,220.8 605.0,223.3 C605.8,225.8 606.7,228.2 607.5,230.0 C608.3,231.8 609.2,233.3 610.0,234.2 C610.8,235.1 611.7,235.6 612.5,235.5 C613.3,235.4 614.0,234.8 614.7,233.3 C615.4,231.9 616.0,229.2 616.7,226.7 C617.3,224.2 617.8,220.7 618.7,218.3 C619.5,216.0 620.3,213.9 621.7,212.5 C623.0,211.1 625.4,211.5 626.7,210.0 C627.9,208.5 628.3,206.4 629.2,203.3 C630.0,200.3 630.8,195.1 631.7,191.7 C632.5,188.2 633.4,184.4 634.2,182.5 C634.9,180.6 635.6,179.7 636.3,180.0 C637.0,180.3 637.6,181.7 638.3,184.2 C639.1,186.7 640.0,191.7 640.8,195.0 C641.7,198.3 642.6,202.3 643.3,204.2 C644.0,206.1 644.3,206.1 645.0,206.3 C645.7,206.5 646.7,205.8 647.5,205.3 C648.3,204.8 649.2,204.5 650.0,203.3 C650.8,202.2 651.8,201.1 652.5,198.3 C653.2,195.6 653.6,191.7 654.2,186.7 C654.7,181.7 655.3,173.9 655.8,168.3 C656.4,162.8 656.8,158.1 657.5,153.3 C658.2,148.6 659.0,143.9 660.0,140.0 C661.0,136.1 662.1,133.3 663.3,130.0 C664.6,126.7 665.8,124.4 667.5,120.0 C669.2,115.6 671.8,107.8 673.3,103.3 C674.9,98.9 675.6,96.7 676.7,93.3 C677.8,90.0 678.9,86.1 680.0,83.3 C681.1,80.6 682.2,78.5 683.3,76.7 C684.4,74.9 685.6,73.5 686.7,72.5 C687.8,71.5 689.0,70.7 690.0,70.8 C691.0,71.0 691.7,71.9 692.5,73.3 C693.3,74.7 694.2,77.2 695.0,79.2 C695.8,81.1 696.7,83.6 697.5,85.0 C698.3,86.4 699.0,87.4 700.0,87.5 C701.0,87.6 702.2,86.4 703.3,85.8 C704.4,85.3 705.6,84.3 706.7,84.2 C707.8,84.1 708.9,84.9 710.0,85.3 C711.1,85.7 712.2,86.7 713.3,86.7 C714.4,86.6 715.6,86.0 716.7,85.0 C717.8,84.0 719.0,82.5 720.0,80.8 C721.0,79.2 721.7,77.9 722.5,75.0 C723.3,72.1 724.3,66.9 725.0,63.3 C725.7,59.7 726.1,56.2 726.7,53.3 C727.2,50.4 727.6,47.6 728.3,45.8 C729.0,44.0 730.0,42.9 730.8,42.5 C731.7,42.1 732.5,43.0 733.3,43.7 C734.2,44.4 735.0,45.9 735.8,46.7 C736.7,47.4 737.4,48.3 738.3,48.3 C739.3,48.3 740.6,47.4 741.7,46.7 C742.8,46.0 743.8,44.9 745.0,44.2 C746.2,43.5 747.8,42.9 749.2,42.5 C750.6,42.1 752.1,42.1 753.3,41.7 C754.6,41.2 755.6,40.1 756.7,39.7 C757.8,39.3 759.0,38.8 760.0,39.2 C761.0,39.5 761.8,40.1 762.5,41.7 C763.2,43.2 763.6,46.0 764.2,48.3 C764.7,50.7 765.4,54.0 765.8,55.8 C766.2,57.6 766.2,57.5 766.7,59.2 C767.1,60.8 768.0,64.4 768.7,65.8 C769.4,67.3 770.1,68.0 770.8,68.0 C771.6,68.0 772.5,67.0 773.3,65.8 C774.2,64.6 775.0,62.5 775.8,60.8 C776.7,59.2 777.5,58.1 778.3,55.8 C779.2,53.6 780.1,50.0 780.8,47.5 C781.6,45.0 782.3,42.1 783.0,40.8 C783.7,39.5 784.3,39.4 785.0,39.7 C785.7,39.9 786.4,40.5 787.0,42.5 C787.6,44.5 788.1,48.3 788.7,51.7 C789.2,55.0 789.8,59.2 790.3,62.5 C790.9,65.8 791.4,69.5 792.0,71.7 C792.6,73.8 793.0,75.1 793.7,75.5 C794.3,75.9 795.1,75.2 795.8,74.2 C796.6,73.1 797.3,70.6 798.0,69.2 C798.7,67.8 799.3,66.2 800.0,65.8 C800.7,65.4 801.3,65.7 802.0,66.7 C802.7,67.6 803.4,69.7 804.2,71.7 C804.9,73.6 805.9,76.2 806.7,78.3 C807.4,80.5 808.3,83.6 808.7,84.7" fill="none" stroke="#04064f" stroke-width="2.8" stroke-linejoin="round" stroke-linecap="round"/>
<rect x="522.5" y="35.3" width="137.20000000000005" height="35.5" fill="#fff" stroke="#b9b9b9" stroke-width="1"/>
<rect x="537.9" y="38.3" width="24.600000000000023" height="5.4" fill="#bfbfbf"/>
<text x="564.7" y="44.0" font-size="10" text-anchor="start" font-weight="normal" fill="#1f1f1f" textLength="70.8" lengthAdjust="spacingAndGlyphs">Five-year range</text>
<line x1="538.5" y1="52.5" x2="562.3" y2="52.5" stroke="#e04208" stroke-width="2.8" stroke-linecap="round"/>
<text x="564.7" y="55.2" font-size="10" text-anchor="start" font-weight="normal" fill="#1f1f1f" textLength="80.9" lengthAdjust="spacingAndGlyphs">Five-year average</text>
<line x1="538.5" y1="65" x2="562.3" y2="65" stroke="#04064f" stroke-width="2.8" stroke-linecap="round"/>
<text x="564.7" y="67.3" font-size="10" text-anchor="start" font-weight="normal" fill="#1f1f1f" textLength="21.8" lengthAdjust="spacingAndGlyphs">2019</text>
<text x="671" y="13.8" font-size="11" text-anchor="middle" font-weight="normal" fill="#1f1f1f" textLength="180" lengthAdjust="spacingAndGlyphs">COMEX Gold: Managed Money Net</text>
<text x="460.8" y="17.9" font-size="10.3" text-anchor="start" font-weight="normal" fill="#1f1f1f" textLength="45" lengthAdjust="spacingAndGlyphs">1,000 lots</text>
<text x="472.5" y="37.4" font-size="10" text-anchor="end" font-weight="normal" fill="#1f1f1f">300</text>
<text x="472.5" y="68.34" font-size="10" text-anchor="end" font-weight="normal" fill="#1f1f1f">250</text>
<text x="472.5" y="99.28" font-size="10" text-anchor="end" font-weight="normal" fill="#1f1f1f">200</text>
<text x="472.5" y="130.22" font-size="10" text-anchor="end" font-weight="normal" fill="#1f1f1f">150</text>
<text x="472.5" y="161.16" font-size="10" text-anchor="end" font-weight="normal" fill="#1f1f1f">100</text>
<text x="472.5" y="192.10000000000002" font-size="10" text-anchor="end" font-weight="normal" fill="#1f1f1f">50</text>
<text x="472.5" y="223.04000000000002" font-size="10" text-anchor="end" font-weight="normal" fill="#1f1f1f">0</text>
<text x="472.5" y="253.98000000000002" font-size="10" text-anchor="end" font-weight="normal" fill="#1f1f1f">-50</text>
<text x="472.5" y="284.91999999999996" font-size="10" text-anchor="end" font-weight="normal" fill="#1f1f1f">-100</text>
<text x="487.5" y="297.8" font-size="8.6" text-anchor="middle" font-weight="normal" fill="#1f1f1f">1</text>
<text x="510.99" y="297.8" font-size="8.6" text-anchor="middle" font-weight="normal" fill="#1f1f1f">4</text>
<text x="534.48" y="297.8" font-size="8.6" text-anchor="middle" font-weight="normal" fill="#1f1f1f">7</text>
<text x="557.97" y="297.8" font-size="8.6" text-anchor="middle" font-weight="normal" fill="#1f1f1f">10</text>
<text x="581.46" y="297.8" font-size="8.6" text-anchor="middle" font-weight="normal" fill="#1f1f1f">13</text>
<text x="604.95" y="297.8" font-size="8.6" text-anchor="middle" font-weight="normal" fill="#1f1f1f">16</text>
<text x="628.44" y="297.8" font-size="8.6" text-anchor="middle" font-weight="normal" fill="#1f1f1f">19</text>
<text x="651.9300000000001" y="297.8" font-size="8.6" text-anchor="middle" font-weight="normal" fill="#1f1f1f">22</text>
<text x="675.4200000000001" y="297.8" font-size="8.6" text-anchor="middle" font-weight="normal" fill="#1f1f1f">25</text>
<text x="698.91" y="297.8" font-size="8.6" text-anchor="middle" font-weight="normal" fill="#1f1f1f">28</text>
<text x="722.4" y="297.8" font-size="8.6" text-anchor="middle" font-weight="normal" fill="#1f1f1f">31</text>
<text x="745.89" y="297.8" font-size="8.6" text-anchor="middle" font-weight="normal" fill="#1f1f1f">34</text>
<text x="769.38" y="297.8" font-size="8.6" text-anchor="middle" font-weight="normal" fill="#1f1f1f">37</text>
<text x="792.87" y="297.8" font-size="8.6" text-anchor="middle" font-weight="normal" fill="#1f1f1f">40</text>
<text x="816.36" y="297.8" font-size="8.6" text-anchor="middle" font-weight="normal" fill="#1f1f1f">43</text>
<text x="839.85" y="297.8" font-size="8.6" text-anchor="middle" font-weight="normal" fill="#1f1f1f">46</text>
<text x="863.34" y="297.8" font-size="8.6" text-anchor="middle" font-weight="normal" fill="#1f1f1f">49</text>
<text x="886.8299999999999" y="297.8" font-size="8.6" text-anchor="middle" font-weight="normal" fill="#1f1f1f">52</text>
<text x="460.8" y="311.0" font-size="8.8" text-anchor="start" font-weight="bold" fill="#1f1f1f" textLength="140" lengthAdjust="spacingAndGlyphs">Source: Bloomberg, Saxo Bank</text>
<rect x="451.5" y="317.5" width="448" height="313" fill="#fff" stroke="#c3c3c3" stroke-width="1"/>
<line x1="480.2" y1="351.60" x2="887.5" y2="351.60" stroke="#cdcdcd" stroke-width="1.5" stroke-dasharray="1.07 1.07"/>
<line x1="480.2" y1="382.60" x2="887.5" y2="382.60" stroke="#cdcdcd" stroke-width="1.5" stroke-dasharray="1.07 1.07"/>
<line x1="480.2" y1="413.60" x2="887.5" y2="413.60" stroke="#cdcdcd" stroke-width="1.5" stroke-dasharray="1.07 1.07"/>
<line x1="480.2" y1="444.60" x2="887.5" y2="444.60" stroke="#cdcdcd" stroke-width="1.5" stroke-dasharray="1.07 1.07"/>
<line x1="480.2" y1="475.60" x2="887.5" y2="475.60" stroke="#cdcdcd" stroke-width="1.5" stroke-dasharray="1.07 1.07"/>
<line x1="480.2" y1="506.60" x2="887.5" y2="506.60" stroke="#cdcdcd" stroke-width="1.5" stroke-dasharray="1.07 1.07"/>
<line x1="480.2" y1="537.60" x2="887.5" y2="537.60" stroke="#cdcdcd" stroke-width="1.5" stroke-dasharray="1.07 1.07"/>
<line x1="480.2" y1="568.60" x2="887.5" y2="568.60" stroke="#cdcdcd" stroke-width="1.5" stroke-dasharray="1.07 1.07"/>
<line x1="480.2" y1="599.60" x2="887.5" y2="599.60" stroke="#cdcdcd" stroke-width="1.5" stroke-dasharray="1.07 1.07"/>
<path d="M484.2,441.7 L492.0,435.8 L499.9,428.3 L507.7,422.0 L515.6,410.0 L523.4,407.0 L531.2,398.0 L539.1,389.7 L546.9,377.0 L554.8,378.0 L562.6,402.5 L570.4,405.8 L578.3,380.0 L586.1,361.7 L594.0,354.2 L601.8,357.5 L609.6,379.2 L617.5,403.0 L625.3,395.8 L633.2,403.0 L641.0,416.7 L648.8,423.7 L656.7,430.0 L664.5,410.8 L672.4,391.3 L680.2,386.7 L688.0,382.5 L695.9,375.8 L703.7,366.7 L711.6,357.5 L719.4,363.7 L727.2,368.3 L735.1,376.3 L742.9,384.2 L750.8,391.7 L758.6,380.3 L766.4,390.8 L774.3,393.3 L782.1,386.7 L790.0,405.0 L797.8,419.7 L805.6,409.2 L813.5,407.0 L821.3,417.0 L829.2,406.3 L837.0,401.7 L844.8,407.5 L852.7,420.8 L860.5,444.2 L868.4,436.3 L876.2,440.0 L884.0,445.0 L884.0,517.5 L876.2,527.5 L868.4,520.8 L860.5,540.8 L852.7,555.8 L844.8,557.0 L837.0,565.3 L829.2,538.7 L821.3,544.7 L813.5,539.7 L805.6,557.5 L797.8,568.3 L790.0,563.0 L782.1,571.7 L774.3,576.3 L766.4,578.0 L758.6,579.7 L750.8,562.0 L742.9,546.3 L735.1,536.3 L727.2,529.7 L719.4,525.0 L711.6,523.7 L703.7,523.7 L695.9,518.0 L688.0,522.0 L680.2,520.8 L672.4,515.8 L664.5,503.3 L656.7,515.8 L648.8,523.0 L641.0,518.3 L633.2,530.8 L625.3,536.7 L617.5,542.5 L609.6,505.0 L601.8,525.0 L594.0,563.0 L586.1,568.0 L578.3,558.7 L570.4,560.3 L562.6,532.5 L554.8,525.0 L546.9,531.7 L539.1,523.3 L531.2,519.2 L523.4,502.0 L515.6,507.0 L507.7,504.2 L499.9,496.7 L492.0,494.7 L484.2,495.8 Z" fill="#bfbfbf"/>
<path d="M484.2,478.3 L492.0,468.0 L499.9,463.3 L507.7,462.0 L515.6,460.3 L523.4,460.0 L531.2,457.5 L539.1,455.0 L546.9,458.7 L554.8,458.7 L562.6,465.8 L570.4,472.5 L578.3,468.0 L586.1,465.8 L594.0,463.0 L601.8,457.5 L609.6,456.3 L617.5,471.7 L625.3,475.0 L633.2,473.0 L641.0,469.2 L648.8,469.2 L656.7,473.7 L664.5,460.0 L672.4,460.8 L680.2,463.3 L688.0,466.3 L695.9,466.3 L703.7,472.5 L711.6,468.3 L719.4,467.0 L727.2,467.0 L735.1,469.7 L742.9,471.7 L750.8,475.0 L758.6,474.2 L766.4,476.3 L774.3,474.2 L782.1,475.8 L790.0,474.2 L797.8,478.7 L805.6,473.0 L813.5,468.0 L821.3,468.0 L829.2,468.0 L837.0,479.2 L844.8,478.3 L852.7,478.3 L860.5,485.8 L868.4,492.5 L876.2,489.7 L884.0,486.7" fill="none" stroke="#e04208" stroke-width="2.8" stroke-linejoin="round" stroke-linecap="round"/>
<path d="M483.8,460.0 C484.2,458.6 485.2,454.2 486.0,451.7 C486.8,449.2 487.7,446.8 488.5,445.0 C489.3,443.2 490.2,441.7 491.0,440.8 C491.8,440.0 492.7,439.8 493.5,440.0 C494.3,440.2 495.0,441.1 496.0,442.0 C497.0,442.9 498.1,444.1 499.3,445.3 C500.6,446.5 502.2,448.1 503.5,449.2 C504.8,450.2 506.1,451.8 507.3,451.7 C508.6,451.5 509.7,449.9 511.0,448.3 C512.3,446.8 513.9,444.4 515.2,442.5 C516.4,440.6 517.5,438.4 518.5,436.7 C519.5,434.9 520.4,432.9 521.3,432.0 C522.2,431.1 523.1,430.9 524.0,431.3 C524.9,431.8 525.8,433.3 526.8,434.7 C527.9,436.1 529.1,438.1 530.2,439.7 C531.3,441.3 532.4,443.1 533.5,444.2 C534.6,445.3 535.9,446.1 536.8,446.3 C537.8,446.5 538.6,446.4 539.3,445.3 C540.1,444.3 540.7,441.9 541.3,440.0 C541.9,438.1 542.4,435.6 543.0,434.2 C543.6,432.7 544.5,431.6 545.2,431.3 C545.8,431.1 546.3,431.1 546.8,432.5 C547.4,433.9 547.9,436.8 548.5,440.0 C549.1,443.2 549.6,447.5 550.2,451.7 C550.7,455.8 551.3,461.1 551.8,465.0 C552.4,468.9 552.8,472.1 553.5,475.0 C554.2,477.9 555.0,480.3 556.0,482.5 C557.0,484.7 558.2,486.8 559.3,488.3 C560.4,489.9 561.6,491.0 562.7,491.7 C563.8,492.4 564.9,492.6 566.0,492.5 C567.1,492.4 568.2,491.9 569.3,491.3 C570.4,490.8 571.7,489.9 572.7,489.2 C573.6,488.4 574.4,487.4 575.2,487.0 C575.9,486.6 576.6,486.2 577.3,487.0 C578.0,487.8 578.6,489.5 579.3,491.7 C580.1,493.8 581.0,497.5 581.8,500.0 C582.7,502.5 583.5,505.0 584.3,506.7 C585.2,508.3 585.9,509.4 586.8,510.0 C587.8,510.6 589.1,510.3 590.2,510.3 C591.3,510.3 592.5,509.5 593.5,510.0 C594.5,510.5 595.0,511.8 596.0,513.3 C597.0,514.9 598.2,517.2 599.3,519.2 C600.4,521.1 601.6,523.2 602.7,525.0 C603.8,526.8 604.9,528.6 606.0,530.0 C607.1,531.4 608.4,532.9 609.3,533.3 C610.3,533.7 611.0,533.1 611.8,532.5 C612.7,531.9 613.1,530.6 614.3,530.0 C615.6,529.4 617.9,528.8 619.3,528.7 C620.7,528.5 621.7,528.9 622.7,529.2 C623.6,529.4 624.2,530.1 625.2,530.0 C626.1,529.9 627.4,528.6 628.5,528.3 C629.6,528.1 631.0,528.1 631.8,528.7 C632.7,529.2 632.9,530.1 633.5,531.7 C634.1,533.3 634.5,535.6 635.2,538.3 C635.9,541.1 636.7,545.1 637.7,548.3 C638.6,551.5 639.9,554.7 641.0,557.5 C642.1,560.3 643.2,563.3 644.3,565.0 C645.4,566.7 646.8,567.5 647.7,567.5 C648.5,567.5 648.8,566.5 649.3,565.0 C649.9,563.5 650.4,561.1 651.0,558.3 C651.6,555.6 652.1,551.4 652.7,548.3 C653.2,545.3 653.6,542.6 654.3,540.0 C655.0,537.4 655.9,535.0 656.8,532.5 C657.8,530.0 658.9,527.8 660.2,525.0 C661.4,522.2 662.9,518.9 664.3,515.8 C665.7,512.8 667.2,509.9 668.5,506.7 C669.8,503.5 670.9,500.3 671.8,496.7 C672.8,493.1 673.5,488.6 674.3,485.0 C675.2,481.4 676.0,477.5 676.8,475.0 C677.7,472.5 678.5,471.1 679.3,470.0 C680.2,468.9 681.0,468.7 681.8,468.7 C682.7,468.6 683.5,469.0 684.3,469.7 C685.2,470.3 685.9,471.2 686.8,472.5 C687.8,473.8 689.2,476.0 690.2,477.5 C691.1,479.0 691.9,480.4 692.7,481.3 C693.4,482.2 694.0,483.1 694.7,483.0 C695.4,482.9 696.1,482.2 696.8,480.8 C697.6,479.5 698.5,477.6 699.3,475.0 C700.2,472.4 701.0,468.6 701.8,465.0 C702.7,461.4 703.5,457.5 704.3,453.3 C705.2,449.2 706.1,443.3 706.8,440.0 C707.5,436.7 707.8,436.4 708.5,433.3 C709.2,430.3 710.2,425.1 711.0,421.7 C711.8,418.2 712.7,414.9 713.5,412.5 C714.3,410.1 715.2,408.2 716.0,407.0 C716.8,405.8 717.7,404.9 718.5,405.0 C719.3,405.1 720.0,405.8 720.7,407.5 C721.4,409.2 721.9,412.1 722.7,415.0 C723.4,417.9 724.3,421.8 725.2,425.0 C726.0,428.2 726.8,431.4 727.7,434.2 C728.5,436.9 729.3,439.6 730.2,441.7 C731.0,443.8 731.9,445.6 732.7,446.7 C733.4,447.7 734.0,448.3 734.7,448.0 C735.4,447.7 736.1,446.6 736.8,445.0 C737.6,443.4 738.4,440.8 739.3,438.3 C740.3,435.8 741.6,432.8 742.7,430.0 C743.8,427.2 744.8,423.8 746.0,421.7 C747.2,419.6 748.9,418.9 750.0,417.5 C751.1,416.1 751.7,414.6 752.5,413.3 C753.3,412.1 754.2,410.8 755.0,410.0 C755.8,409.2 756.7,408.7 757.5,408.3 C758.3,408.0 759.2,407.9 760.0,408.0 C760.8,408.1 761.7,408.6 762.5,409.2 C763.3,409.7 764.2,410.5 765.0,411.3 C765.8,412.2 766.7,413.1 767.5,414.2 C768.3,415.3 769.2,416.8 770.0,418.0 C770.8,419.2 771.7,420.6 772.5,421.7 C773.3,422.7 774.0,423.3 775.0,424.2 C776.0,425.0 777.2,425.8 778.3,426.7 C779.4,427.6 780.6,428.6 781.7,429.7 C782.8,430.8 784.0,432.3 785.0,433.3 C786.0,434.4 786.7,435.3 787.5,435.8 C788.3,436.4 789.2,436.8 790.0,436.7 C790.8,436.5 791.7,435.6 792.5,435.0 C793.3,434.4 794.2,433.3 795.0,433.0 C795.8,432.7 796.5,432.7 797.2,433.0 C797.9,433.3 798.4,434.2 799.2,435.0 C799.9,435.8 800.8,437.0 801.7,438.0 C802.5,439.0 803.5,440.2 804.2,440.8 C804.8,441.5 805.3,441.8 805.5,442.0" fill="none" stroke="#04064f" stroke-width="2.8" stroke-linejoin="round" stroke-linecap="round"/>
<rect x="720.7" y="485.3" width="138.0" height="41.99999999999994" fill="#fff" stroke="#e4e4e4" stroke-width="1"/>
<rect x="736.1" y="489.0" width="24.600000000000023" height="5.4" fill="#bfbfbf"/>
<text x="763.8000000000001" y="494.8" font-size="10" text-anchor="start" font-weight="normal" fill="#1f1f1f" textLength="70.8" lengthAdjust="spacingAndGlyphs">Five-year range</text>
<line x1="736.7" y1="506.3" x2="760.5" y2="506.3" stroke="#e04208" stroke-width="2.8" stroke-linecap="round"/>
<text x="763.8000000000001" y="508.8" font-size="10" text-anchor="start" font-weight="normal" fill="#1f1f1f" textLength="80.9" lengthAdjust="spacingAndGlyphs">Five-year average</text>
<line x1="736.7" y1="521.2" x2="760.5" y2="521.2" stroke="#04064f" stroke-width="2.8" stroke-linecap="round"/>
<text x="763.8000000000001" y="523.5" font-size="10" text-anchor="start" font-weight="normal" fill="#1f1f1f" textLength="21.8" lengthAdjust="spacingAndGlyphs">2019</text>
<text x="671" y="330.8" font-size="11" text-anchor="middle" font-weight="normal" fill="#1f1f1f" textLength="184" lengthAdjust="spacingAndGlyphs">COMEX Silver: Managed Money Net</text>
<text x="460.8" y="334.9" font-size="10.3" text-anchor="start" font-weight="normal" fill="#1f1f1f" textLength="45" lengthAdjust="spacingAndGlyphs">1,000 lots</text>
<text x="469.2" y="354.0" font-size="10" text-anchor="end" font-weight="normal" fill="#1f1f1f">100</text>
<text x="469.2" y="385.0" font-size="10" text-anchor="end" font-weight="normal" fill="#1f1f1f">80</text>
<text x="469.2" y="416.0" font-size="10" text-anchor="end" font-weight="normal" fill="#1f1f1f">60</text>
<text x="469.2" y="447.0" font-size="10" text-anchor="end" font-weight="normal" fill="#1f1f1f">40</text>
<text x="469.2" y="478.0" font-size="10" text-anchor="end" font-weight="normal" fill="#1f1f1f">20</text>
<text x="469.2" y="509.0" font-size="10" text-anchor="end" font-weight="normal" fill="#1f1f1f">0</text>
<text x="469.2" y="540.0" font-size="10" text-anchor="end" font-weight="normal" fill="#1f1f1f">-20</text>
<text x="469.2" y="571.0" font-size="10" text-anchor="end" font-weight="normal" fill="#1f1f1f">-40</text>
<text x="469.2" y="602.0" font-size="10" text-anchor="end" font-weight="normal" fill="#1f1f1f">-60</text>
<text x="484.2" y="614.8" font-size="8.6" text-anchor="middle" font-weight="normal" fill="#1f1f1f">1</text>
<text x="507.71999999999997" y="614.8" font-size="8.6" text-anchor="middle" font-weight="normal" fill="#1f1f1f">4</text>
<text x="531.24" y="614.8" font-size="8.6" text-anchor="middle" font-weight="normal" fill="#1f1f1f">7</text>
<text x="554.76" y="614.8" font-size="8.6" text-anchor="middle" font-weight="normal" fill="#1f1f1f">10</text>
<text x="578.28" y="614.8" font-size="8.6" text-anchor="middle" font-weight="normal" fill="#1f1f1f">13</text>
<text x="601.8" y="614.8" font-size="8.6" text-anchor="middle" font-weight="normal" fill="#1f1f1f">16</text>
<text x="625.3199999999999" y="614.8" font-size="8.6" text-anchor="middle" font-weight="normal" fill="#1f1f1f">19</text>
<text x="648.8399999999999" y="614.8" font-size="8.6" text-anchor="middle" font-weight="normal" fill="#1f1f1f">22</text>
<text x="672.36" y="614.8" font-size="8.6" text-anchor="middle" font-weight="normal" fill="#1f1f1f">25</text>
<text x="695.88" y="614.8" font-size="8.6" text-anchor="middle" font-weight="normal" fill="#1f1f1f">28</text>
<text x="719.4" y="614.8" font-size="8.6" text-anchor="middle" font-weight="normal" fill="#1f1f1f">31</text>
<text x="742.92" y="614.8" font-size="8.6" text-anchor="middle" font-weight="normal" fill="#1f1f1f">34</text>
<text x="766.44" y="614.8" font-size="8.6" text-anchor="middle" font-weight="normal" fill="#1f1f1f">37</text>
<text x="789.96" y="614.8" font-size="8.6" text-anchor="middle" font-weight="normal" fill="#1f1f1f">40</text>
<text x="813.48" y="614.8" font-size="8.6" text-anchor="middle" font-weight="normal" fill="#1f1f1f">43</text>
<text x="837.0" y="614.8" font-size="8.6" text-anchor="middle" font-weight="normal" fill="#1f1f1f">46</text>
<text x="860.52" y="614.8" font-size="8.6" text-anchor="middle" font-weight="normal" fill="#1f1f1f">49</text>
<text x="884.04" y="614.8" font-size="8.6" text-anchor="middle" font-weight="normal" fill="#1f1f1f">52</text>
<text x="460.8" y="628.0" font-size="8.8" text-anchor="start" font-weight="bold" fill="#1f1f1f" textLength="140" lengthAdjust="spacingAndGlyphs">Source: Bloomberg, Saxo Bank</text>
</svg>
</body></html>
